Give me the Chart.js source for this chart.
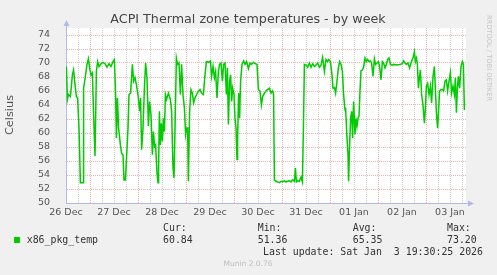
<!DOCTYPE html>
<html>
<head>
<meta charset="utf-8">
<script src="https://cdn.jsdelivr.net/npm/chart.js@4/dist/chart.umd.min.js"></script>
<style>
  html, body { margin: 0; padding: 0; background: #f0f0f0; }
  canvas { display: block; }
</style>
</head>
<body>
<canvas id="tempChart" width="497" height="275"></canvas>
<script>
// hours counted from 26 Dec 00:00
const hours = [
  12.2, 12.7, 13.2, 14.2, 15.2, 15.8, 16.5, 17.2, 17.8, 18.5, 19.2, 20.5, 20.8, 21.8, 22.5, 23.2, 23.8, 24.5, 25.2, 25.8,
  26.5, 27.2, 27.8, 28.5, 29.5, 30.5, 31.5, 32.5, 33.5, 34.5, 35.5, 36.2, 36.8, 37.2, 37.7, 38.3, 39.2, 39.8, 40.5, 41.0,
  41.7, 42.2, 43.0, 43.5, 44.3, 45.2, 45.8, 46.5, 47.2, 48.2, 48.8, 49.3, 49.8, 50.5, 51.2, 51.8, 52.5, 53.2, 53.8, 54.5,
  55.2, 55.7, 56.3, 56.8, 57.5, 58.0, 58.3, 58.7, 59.2, 59.7, 60.2, 60.7, 61.2, 61.7, 62.3, 63.2, 64.2, 64.8, 65.5, 66.0,
  66.5, 67.2, 67.8, 68.5, 69.2, 69.8, 70.5, 71.2, 71.8, 72.3, 72.8, 73.2, 73.8, 74.5, 75.2, 75.8, 76.5, 77.3, 78.2, 79.0,
  79.8, 80.7, 81.5, 82.2, 83.2, 84.2, 84.8, 85.5, 86.2, 86.8, 87.5, 88.2, 88.8, 89.5, 90.2, 90.8, 91.5, 92.2, 92.7, 93.2,
  93.8, 94.3, 94.8, 95.3, 96.0, 96.5, 97.0, 97.5, 97.8, 98.3, 98.8, 99.3, 100.0, 100.8, 101.5, 102.3, 103.2, 104.0, 104.8, 105.7,
  106.5, 107.5, 108.2, 109.0, 109.7, 110.3, 111.2, 112.0, 112.8, 113.7, 114.5, 115.3, 115.8, 116.2, 117.0, 117.8, 118.7, 119.5, 120.3, 121.2,
  122.0, 122.8, 123.7, 124.5, 125.3, 126.2, 126.7, 127.2, 127.8, 128.7, 129.5, 130.2, 130.7, 131.2, 132.0, 132.8, 133.7, 134.5, 135.3, 136.2,
  137.0, 137.8, 138.7, 139.5, 140.3, 141.2, 142.0, 142.8, 143.3, 144.2, 145.0, 145.5, 146.2, 146.8, 147.5, 148.2, 148.8, 149.5, 150.2, 150.8,
  151.5, 151.8, 152.5, 153.0, 153.3, 153.8, 154.3, 154.8, 155.3, 155.8, 156.5, 157.0, 157.5, 158.0, 158.5, 159.0, 159.5, 160.2, 160.8, 161.5,
  162.2, 162.8, 163.5, 164.2, 164.8, 165.5, 166.2, 166.8, 167.5, 168.2, 168.8, 169.5, 170.2, 170.8, 171.5, 172.2, 172.8, 173.5, 174.2, 175.0,
  175.8, 177.2, 178.8, 180.2, 180.8, 181.5, 182.2, 183.0, 183.8, 184.7, 185.5, 186.2, 186.7, 187.2, 187.7, 188.2, 188.7, 189.2, 189.8, 190.5,
  191.2, 191.7, 192.2, 192.8, 193.5, 194.2, 194.8, 195.5, 196.2, 196.8, 197.3, 197.8, 198.3, 198.8, 199.5, 200.2, 200.8, 201.5, 202.2, 202.8,
  203.5, 204.2, 204.8, 205.5, 206.2, 206.7, 207.2, 207.7, 208.2, 208.8, 209.5, 210.2, 210.7, 211.2
];

const temps = [
  69.5, 64.8, 65.5, 65.2, 68.3, 69.0, 66.9, 65.2, 65.0, 60.7, 52.9, 52.9, 66.4, 68.3, 69.8, 70.6, 69.3, 68.3, 68.6, 62.6,
  56.7, 68.8, 70.2, 69.5, 69.9, 70.1, 69.9, 69.4, 69.9, 69.5, 70.2, 70.5, 65.5, 59.3, 65.0, 60.7, 58.3, 57.1, 56.9, 53.3,
  53.3, 56.0, 60.7, 65.5, 65.7, 69.8, 67.4, 67.9, 66.9, 65.0, 63.1, 65.0, 57.6, 60.7, 66.4, 70.0, 67.9, 61.0, 64.5, 62.6,
  56.9, 60.2, 58.1, 58.3, 54.3, 52.9, 55.0, 63.1, 58.3, 61.4, 58.8, 62.1, 60.2, 65.5, 64.8, 65.7, 64.8, 63.1, 55.0, 53.6,
  60.7, 70.7, 69.8, 70.0, 65.5, 69.8, 65.5, 63.6, 59.8, 60.7, 60.7, 53.1, 63.1, 66.2, 65.7, 64.3, 65.0, 65.5, 66.0, 66.2,
  65.7, 65.5, 68.3, 70.2, 70.1, 70.3, 68.1, 69.5, 67.9, 68.8, 65.0, 68.8, 69.8, 70.0, 67.4, 69.8, 70.0, 65.5, 69.3, 61.2,
  67.4, 68.3, 64.5, 66.4, 65.5, 62.1, 60.7, 56.2, 59.3, 65.7, 62.1, 67.4, 69.8, 70.3, 69.8, 70.2, 69.2, 70.0, 69.8, 70.1,
  69.9, 69.8, 66.2, 66.0, 64.0, 65.2, 65.7, 66.0, 66.2, 66.4, 65.7, 66.0, 65.5, 53.3, 53.1, 53.0, 52.9, 53.1, 53.0, 53.2,
  53.0, 53.1, 53.2, 53.0, 53.3, 53.1, 55.0, 53.0, 53.2, 53.1, 53.7, 53.0, 60.7, 69.8, 69.7, 69.4, 70.0, 69.4, 69.9, 69.5,
  69.7, 70.0, 69.4, 69.7, 70.8, 68.8, 70.5, 70.2, 70.5, 70.2, 68.3, 66.4, 66.5, 65.7, 67.4, 69.3, 70.2, 69.8, 68.8, 65.5,
  63.3, 63.6, 59.3, 56.9, 53.1, 58.3, 62.1, 63.1, 59.3, 64.5, 59.8, 62.1, 61.0, 62.1, 62.4, 66.0, 68.9, 69.0, 69.4, 70.7,
  70.2, 70.5, 70.2, 70.3, 70.0, 68.1, 70.6, 69.8, 70.0, 70.2, 69.5, 67.6, 70.2, 70.0, 69.3, 69.8, 70.5, 70.7, 69.8, 69.7,
  69.8, 69.7, 69.8, 69.9, 70.3, 70.0, 69.8, 70.0, 69.3, 70.2, 70.7, 71.6, 70.2, 70.7, 69.8, 66.4, 67.9, 69.0, 65.5, 64.0,
  61.4, 63.6, 66.7, 67.1, 65.5, 66.7, 64.3, 68.1, 69.5, 65.5, 62.4, 60.7, 63.3, 66.0, 66.2, 66.2, 66.0, 67.4, 67.6, 66.0,
  67.4, 68.6, 65.7, 66.7, 65.5, 67.9, 62.9, 66.4, 68.1, 66.4, 69.5, 70.2, 69.8, 63.3
];

// day labels sit at noon of each day
const dayLabels = ["26 Dec", "27 Dec", "28 Dec", "29 Dec", "30 Dec", "31 Dec", "01 Jan", "02 Jan", "03 Jan"];
const statNames = ["Cur:", "Min:", "Avg:", "Max:"];
const statValues = ["60.84", "51.36", "65.35", "73.20"];
const seriesName = "x86_pkg_temp";

const titleText = "ACPI Thermal zone temperatures - by week";
const axisColor = "rgb(176,186,240)";
const lineColor = "#00cc00";
const majorGrid = "rgba(225,110,110,0.55)";
const minorGrid = "rgba(170,170,170,0.55)";

// grid every 6 hours over the visible window
const gridHours = [];
for (let h = 12; h <= 210; h += 6) gridHours.push(h);

// munin style frame, arrows, legend
const muninDecor = {
    id: 'muninDecor',
    beforeDraw(chart) {
        const ctx = chart.ctx;
        const a = chart.chartArea;
        ctx.save();
        ctx.fillStyle = "#f0f0f0";
        ctx.fillRect(0, 0, chart.width, chart.height);
        ctx.fillStyle = "#ffffff";
        ctx.fillRect(a.left, a.top, a.right - a.left, a.bottom - a.top);
        ctx.restore();
    },
    afterDraw(chart) {
        const ctx = chart.ctx;
        const a = chart.chartArea;
        ctx.save();

        // axis extensions + arrows
        ctx.strokeStyle = axisColor;
        ctx.fillStyle = axisColor;
        ctx.lineWidth = 1;
        ctx.beginPath();
        ctx.moveTo(a.left + 0.5, a.top);
        ctx.lineTo(a.left + 0.5, a.top - 4);
        ctx.moveTo(a.right, a.bottom + 0.5);
        ctx.lineTo(a.right + 4, a.bottom + 0.5);
        ctx.stroke();
        ctx.beginPath();
        ctx.moveTo(a.left + 0.5, a.top - 8);
        ctx.lineTo(a.left - 2.5, a.top - 2);
        ctx.lineTo(a.left + 3.5, a.top - 2);
        ctx.closePath();
        ctx.fill();
        ctx.beginPath();
        ctx.moveTo(a.right + 8, a.bottom + 0.5);
        ctx.lineTo(a.right + 2, a.bottom - 2.5);
        ctx.lineTo(a.right + 2, a.bottom + 3.5);
        ctx.closePath();
        ctx.fill();

        // title
        ctx.fillStyle = "#444";
        ctx.font = "12.7px 'DejaVu Sans'";
        ctx.textAlign = "center";
        ctx.textBaseline = "middle";
        ctx.fillText(titleText, 248, 19.5);

        // y axis title
        ctx.save();
        ctx.translate(10.5, 115);
        ctx.rotate(-Math.PI / 2);
        ctx.font = "11.3px 'DejaVu Sans'";
        ctx.fillStyle = "#555";
        ctx.fillText("Celsius", 0, 0);
        ctx.restore();

        // rrdtool credit on the right
        ctx.save();
        ctx.translate(488.5, 58);
        ctx.rotate(Math.PI / 2);
        ctx.font = "6.7px 'DejaVu Sans'";
        ctx.fillStyle = "#c4c4c4";
        ctx.fillText("RRDTOOL / TOBI OETIKER", 0, 0);
        ctx.restore();

        // legend
        ctx.fillStyle = lineColor;
        ctx.fillRect(14, 237, 6, 6);
        ctx.font = "9.9px 'DejaVu Sans Mono'";
        ctx.fillStyle = "#333";
        ctx.textAlign = "left";
        ctx.fillText(seriesName, 26.7, 240);
        const statX = [163, 257.7, 352.7, 447];
        statNames.forEach((name, i) => {
            ctx.fillText(name, statX[i], 228);
            ctx.fillText(statValues[i], statX[i], 240);
        });
        ctx.textAlign = "right";
        ctx.fillText("Last update: Sat Jan  3 19:30:25 2026", 483, 252);

        ctx.textAlign = "center";
        ctx.font = "7.5px 'DejaVu Sans'";
        ctx.fillStyle = "#bdbdbd";
        ctx.fillText("Munin 2.0.76", 248, 264);
        ctx.restore();
    }
};

function createChart() {
    const ctx = document.getElementById('tempChart').getContext('2d');
    const points = hours.map((h, i) => ({ x: h, y: temps[i] }));

    window.tempChart = new Chart(ctx, {
        type: 'line',
        data: {
            datasets: [{
                label: seriesName,
                data: points,
                borderColor: lineColor,
                borderWidth: 1.5,
                pointRadius: 0,
                tension: 0,
                fill: false
            }]
        },
        options: {
            responsive: false,
            animation: false,
            devicePixelRatio: 1,
            layout: { padding: { top: 28, right: 31, left: 0, bottom: 0 } },
            plugins: {
                legend: { display: false },
                title: { display: false },
                tooltip: { enabled: false }
            },
            scales: {
                x: {
                    type: 'linear',
                    min: 12,
                    max: 212,
                    afterFit: scale => { scale.height = 72; },
                    afterBuildTicks: scale => { scale.ticks = gridHours.map(v => ({ value: v })); },
                    grid: {
                        drawTicks: false,
                        color: c => (c.tick && c.tick.value % 24 === 0) ? majorGrid : minorGrid
                    },
                    border: { display: true, color: axisColor, width: 1, dash: [1, 1] },
                    ticks: {
                        autoSkip: false,
                        maxRotation: 0,
                        padding: 4,
                        color: "#555",
                        font: { family: "DejaVu Sans", size: 9.5 },
                        callback: v => ((v - 12) % 24 === 0) ? dayLabels[(v - 12) / 24] : ''
                    }
                },
                y: {
                    min: 50,
                    max: 75,
                    afterFit: scale => { scale.width = 66; },
                    grid: {
                        drawTicks: false,
                        color: c => (c.tick && c.tick.value % 2 === 0) ? majorGrid : minorGrid
                    },
                    border: { display: true, color: axisColor, width: 1, dash: [1, 1] },
                    ticks: {
                        stepSize: 1,
                        padding: 16,
                        color: "#555",
                        font: { family: "DejaVu Sans", size: 9.5 },
                        callback: v => (v % 2 === 0) ? String(v) : ''
                    }
                }
            }
        },
        plugins: [muninDecor]
    });
}

window.addEventListener("DOMContentLoaded", function () {
    createChart();
});
</script>
</body>
</html>
